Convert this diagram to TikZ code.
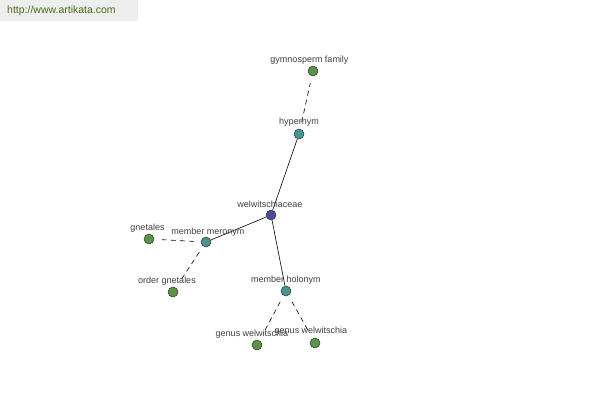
\documentclass[tikz,border=0pt]{standalone}
\usepackage{fontspec}
\setmainfont{Liberation Sans}
\definecolor{leafc}{HTML}{5A9448}
\definecolor{relc}{HTML}{4A9490}
\definecolor{rootc}{HTML}{4C4C9C}
\definecolor{labc}{HTML}{404040}
\definecolor{bannerbg}{HTML}{EEEEEE}
\definecolor{bannertx}{HTML}{4A6A1A}
\tikzset{
  vtx/.style={circle,draw=black!80,line width=0.5pt,minimum size=10pt,inner sep=0pt},
  leaf/.style={vtx,fill=leafc},
  rel/.style={vtx,fill=relc},
  root/.style={vtx,fill=rootc},
  lab/.style={font=\fontsize{9}{10}\selectfont,text=labc,inner sep=0pt},
  solidedge/.style={draw=black,line width=0.6pt},
  dashedge/.style={draw=black,line width=0.6pt,dashed,dash pattern=on 5pt off 4pt,shorten <=7pt,shorten >=7pt},
}
\begin{document}
\begin{tikzpicture}[x=1pt,y=-1pt]
\useasboundingbox (0,0) rectangle (600,400);
\fill[white] (0,0) rectangle (600,400);
\fill[bannerbg] (0,0) rectangle (138,21);
\node[anchor=west,font=\fontsize{10.5}{12}\selectfont,text=bannertx,inner sep=0pt] (banner) at (7,11) {http://www.artikata.com};

\node[root] (w) at (271,215) {};
\node[rel] (hyp) at (299,134) {};
\node[leaf] (gf) at (313,71) {};
\node[rel] (mm) at (206,242) {};
\node[leaf] (gn) at (149,239) {};
\node[leaf] (og) at (173,292) {};
\node[rel] (mh) at (286,291) {};
\node[leaf] (gw1) at (257,345) {};
\node[leaf] (gw2) at (315,343) {};

\draw[solidedge] (w) -- (hyp);
\draw[solidedge] (w) -- (mm);
\draw[solidedge] (w) -- (mh);
\draw[dashedge] (hyp) -- (gf);
\draw[dashedge] (mm) -- (gn);
\draw[dashedge] (mm) -- (og);
\draw[dashedge] (mh) -- (gw1);
\draw[dashedge] (mh) -- (gw2);

\node[lab] (lgf) at (309.5,60) {gymnosperm family};
\node[lab] (lhyp) at (299,122) {hypernym};
\node[lab] (lw) at (270,204) {welwitschiaceae};
\node[lab] (lmm) at (208,232) {member meronym};
\node[lab] (lgn) at (147.5,228) {gnetales};
\node[lab] (log) at (167,281) {order gnetales};
\node[lab] (lmh) at (286,280) {member holonym};
\node[lab] (lgw1) at (252,334) {genus welwitschia};
\node[lab] (lgw2) at (311,331) {genus welwitschia};
\end{tikzpicture}
\end{document}
